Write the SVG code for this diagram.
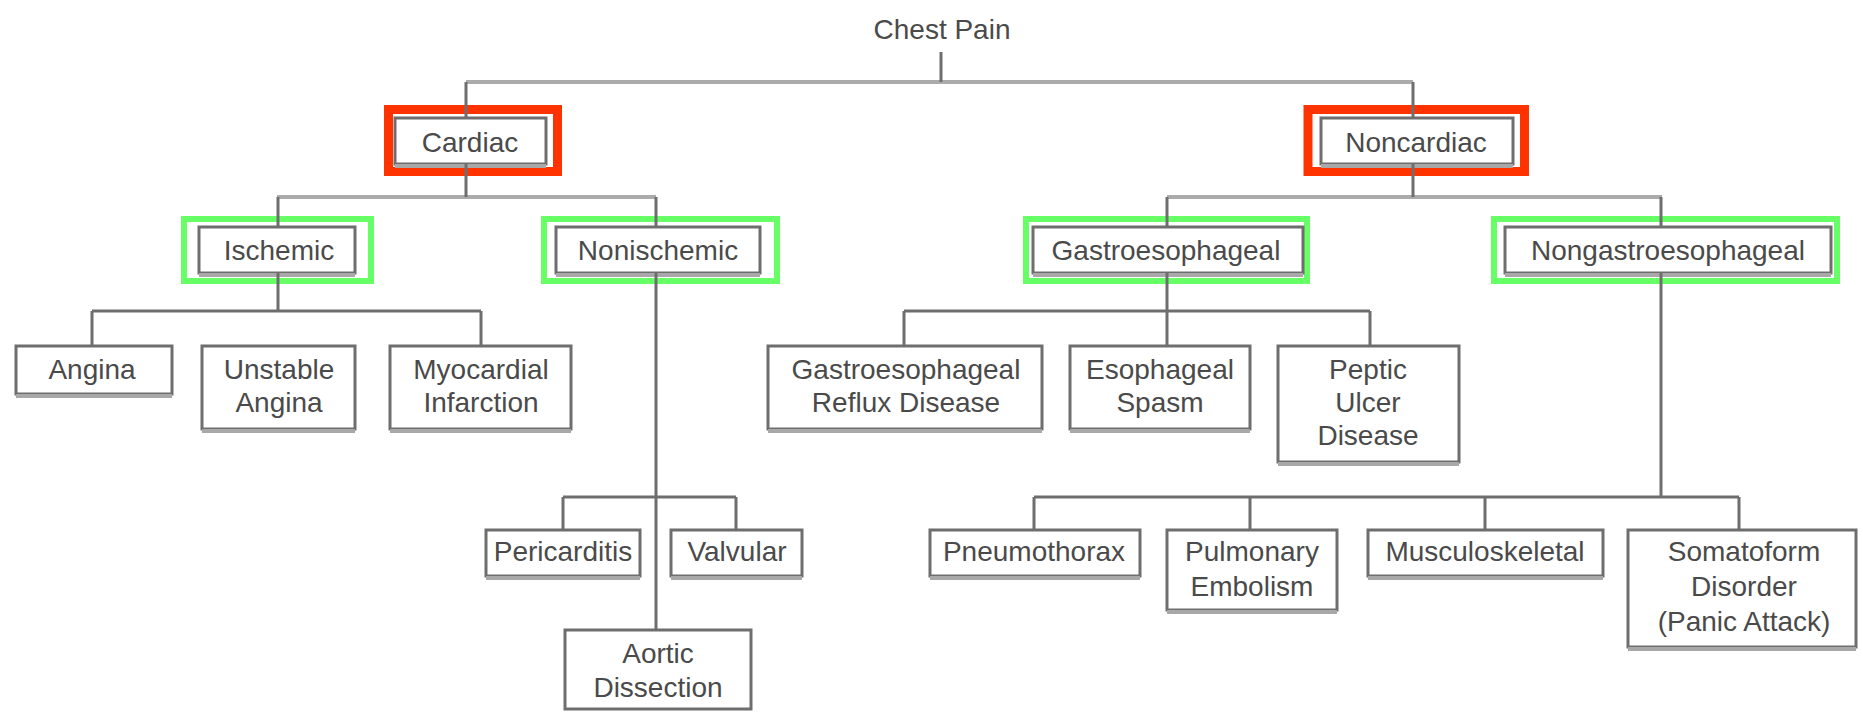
<svg xmlns="http://www.w3.org/2000/svg" width="1863" height="713" viewBox="0 0 1863 713">
<style>
.t{font-family:"Liberation Sans",Arial,sans-serif;font-size:28px;fill:#4a4a4a;text-anchor:middle}
.box{fill:#fff;stroke:#6e6e6e;stroke-width:3}
.sh{stroke:#a8a8a8;stroke-width:4;fill:none}
.red{fill:none;stroke:#ff3300;stroke-width:9}
.grn{fill:none;stroke:#66ff66;stroke-width:6}
.c1{stroke:#ababab;stroke-width:4;fill:none}
.c2{stroke:#6e6e6e;stroke-width:3;fill:none}
</style>
<rect width="1863" height="713" fill="#fff"/>
<g id="chest-pain"><text class="t" x="942" y="39">Chest Pain</text></g>
<g id="cardiac"><rect class="red" x="388.5" y="109.5" width="169" height="62"/><rect class="box" x="395" y="118" width="151" height="46"/><line class="sh" x1="395" y1="166" x2="546" y2="166"/><text class="t" x="470" y="152">Cardiac</text></g>
<g id="noncardiac"><rect class="red" x="1308" y="109.5" width="216.5" height="62"/><rect class="box" x="1321" y="118" width="192" height="46"/><line class="sh" x1="1321" y1="166" x2="1513" y2="166"/><text class="t" x="1416" y="152">Noncardiac</text></g>
<g id="ischemic"><rect class="grn" x="184" y="219" width="187" height="62"/><rect class="box" x="199" y="227" width="156" height="46"/><line class="sh" x1="199" y1="275" x2="355" y2="275"/><text class="t" x="279" y="260">Ischemic</text></g>
<g id="nonischemic"><rect class="grn" x="544" y="219" width="233" height="62"/><rect class="box" x="556" y="227" width="204" height="46"/><line class="sh" x1="556" y1="275" x2="760" y2="275"/><text class="t" x="658" y="260">Nonischemic</text></g>
<g id="gastroesophageal"><rect class="grn" x="1026" y="219" width="281" height="62"/><rect class="box" x="1033" y="227" width="270" height="46"/><line class="sh" x1="1033" y1="275" x2="1303" y2="275"/><text class="t" x="1166" y="260">Gastroesophageal</text></g>
<g id="nongastroesophageal"><rect class="grn" x="1494" y="219" width="343" height="62"/><rect class="box" x="1505" y="227" width="326" height="46"/><line class="sh" x1="1505" y1="275" x2="1831" y2="275"/><text class="t" x="1668" y="260">Nongastroesophageal</text></g>
<g id="angina"><rect class="box" x="16" y="346" width="156" height="48"/><line class="sh" x1="16" y1="396" x2="172" y2="396"/><text class="t" x="92" y="379">Angina</text></g>
<g id="unstable-angina"><rect class="box" x="202" y="346" width="153" height="83"/><line class="sh" x1="202" y1="431" x2="355" y2="431"/><text class="t" x="279" y="379">Unstable</text><text class="t" x="279" y="412">Angina</text></g>
<g id="myocardial-infarction"><rect class="box" x="390" y="346" width="181" height="83"/><line class="sh" x1="390" y1="431" x2="571" y2="431"/><text class="t" x="481" y="379">Myocardial</text><text class="t" x="481" y="412">Infarction</text></g>
<g id="pericarditis"><rect class="box" x="486" y="530" width="154" height="46"/><line class="sh" x1="486" y1="578" x2="640" y2="578"/><text class="t" x="563" y="561">Pericarditis</text></g>
<g id="valvular"><rect class="box" x="671" y="530" width="131" height="46"/><line class="sh" x1="671" y1="578" x2="802" y2="578"/><text class="t" x="737" y="561">Valvular</text></g>
<g id="aortic-dissection"><rect class="box" x="565" y="630" width="186" height="79"/><text class="t" x="658" y="663">Aortic</text><text class="t" x="658" y="697">Dissection</text></g>
<g id="gerd"><rect class="box" x="768" y="346" width="274" height="83"/><line class="sh" x1="768" y1="431" x2="1042" y2="431"/><text class="t" x="906" y="379">Gastroesophageal</text><text class="t" x="906" y="412">Reflux Disease</text></g>
<g id="esophageal-spasm"><rect class="box" x="1070" y="346" width="180" height="83"/><line class="sh" x1="1070" y1="431" x2="1250" y2="431"/><text class="t" x="1160" y="379">Esophageal</text><text class="t" x="1160" y="412">Spasm</text></g>
<g id="peptic-ulcer-disease"><rect class="box" x="1278" y="346" width="181" height="116"/><line class="sh" x1="1278" y1="464" x2="1459" y2="464"/><text class="t" x="1368" y="379">Peptic</text><text class="t" x="1368" y="412">Ulcer</text><text class="t" x="1368" y="445">Disease</text></g>
<g id="pneumothorax"><rect class="box" x="930" y="530" width="210" height="46"/><line class="sh" x1="930" y1="578" x2="1140" y2="578"/><text class="t" x="1034" y="561">Pneumothorax</text></g>
<g id="pulmonary-embolism"><rect class="box" x="1167" y="530" width="170" height="80"/><line class="sh" x1="1167" y1="612" x2="1337" y2="612"/><text class="t" x="1252" y="561">Pulmonary</text><text class="t" x="1252" y="596">Embolism</text></g>
<g id="musculoskeletal"><rect class="box" x="1368" y="530" width="235" height="46"/><line class="sh" x1="1368" y1="578" x2="1603" y2="578"/><text class="t" x="1485" y="561">Musculoskeletal</text></g>
<g id="somatoform"><rect class="box" x="1628" y="530" width="228" height="117"/><line class="sh" x1="1628" y1="649" x2="1856" y2="649"/><text class="t" x="1744" y="561">Somatoform</text><text class="t" x="1744" y="596">Disorder</text><text class="t" x="1744" y="631">(Panic Attack)</text></g>
<g id="connectors">
<path class="c1" d="M466 82H1413M277 197H656M1167 197H1662"/>
<path class="c2" d="M941 52V82M466 82V118M466 164V197M1413 82V118M1413 164V197M278 197V227M278 273V311M656 197V227M656 273V630M1167 197V227M1167 273V346M1661 197V227M1661 273V497"/>
<path class="c2" d="M92 311H481M92 311V346M481 311V346M563 497H736M563 497V530M736 497V530M904 311H1370M904 311V346M1370 311V346M1034 497H1739M1034 497V530M1250 497V530M1485 497V530M1739 497V530"/>
</g>
</svg>
